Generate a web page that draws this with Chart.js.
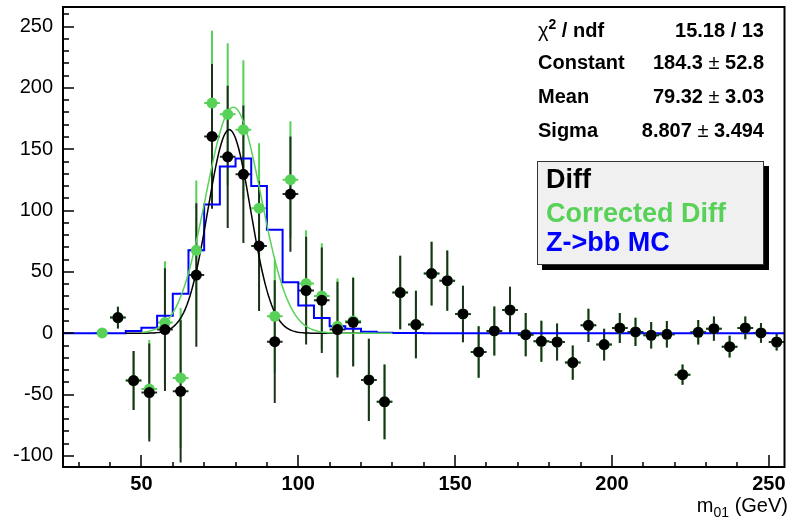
<!DOCTYPE html>
<html>
<head>
<meta charset="utf-8">
<script src="https://cdn.jsdelivr.net/npm/chart.js@4.4.0/dist/chart.umd.min.js"></script>
<style>
  body { margin: 0; background: #fff; }
  #wrap { position: relative; width: 790px; height: 519px; font-family: 'Liberation Sans', Arial, Helvetica, sans-serif; }
  #plot { position: absolute; left: 0; top: 0; }
  .stat { position: absolute; left: 538px; width: 226px; font-size: 20px; line-height: 20px; font-weight: bold; color: #000; white-space: nowrap; }
  .stat .v { position: absolute; right: 0; top: 0; }
  .pm { font-weight: normal; }
  .chi { font-weight: normal; }
  .stat sup { font-size: 14px; line-height: 0; vertical-align: 8px; }
  #legend { position: absolute; left: 537px; top: 161px; width: 225px; height: 102px; background: #f0f0f0; border: 1px solid #333; box-shadow: 5px 5px 0 #000; }
  .leg { position: absolute; left: 546px; font-size: 27px; line-height: 27px; font-weight: bold; white-space: nowrap; }
  #xtitle { position: absolute; right: 2px; top: 495px; font-size: 20px; line-height: 20px; white-space: nowrap; }
  #xtitle sub { font-size: 14px; line-height: 0; vertical-align: -5px; }
</style>
</head>
<body>
<div id="wrap">
  <canvas id="plot" width="790" height="519"></canvas>

  <div class="stat" style="top:20px"><span class="chi">&chi;</span><sup>2</sup> / ndf<span class="v">15.18 / 13</span></div>
  <div class="stat" style="top:52px">Constant<span class="v">184.3 <span class="pm">&plusmn;</span> 52.8</span></div>
  <div class="stat" style="top:86px">Mean<span class="v">79.32 <span class="pm">&plusmn;</span> 3.03</span></div>
  <div class="stat" style="top:120px">Sigma<span class="v">8.807 <span class="pm">&plusmn;</span> 3.494</span></div>

  <div id="legend"></div>
  <div class="leg" style="top:166px;color:#000">Diff</div>
  <div class="leg" style="top:200px;color:#57d157">Corrected Diff</div>
  <div class="leg" style="top:229px;color:#0000ff">Z-&gt;bb MC</div>

  <div id="xtitle">m<sub>01</sub> (GeV)</div>
</div>

<script>
const FONT = "'Liberation Sans', Arial, Helvetica, sans-serif";

// 5 GeV bins from 25 to 255
const binCentres = [27.5, 32.5, 37.5, 42.5, 47.5, 52.5, 57.5, 62.5, 67.5, 72.5,
  77.5, 82.5, 87.5, 92.5, 97.5, 102.5, 107.5, 112.5, 117.5, 122.5,
  127.5, 132.5, 137.5, 142.5, 147.5, 152.5, 157.5, 162.5, 167.5, 172.5,
  177.5, 182.5, 187.5, 192.5, 197.5, 202.5, 207.5, 212.5, 217.5, 222.5,
  227.5, 232.5, 237.5, 242.5, 247.5, 252.5];
const binHalfWidth = 2.5;

const diffValues = [null, null, null, 12.8, -38.5, -48.3, 3.0, -47.3, 47.5, 160.5,
  143.9, 129.6, 71.2, -6.8, 113.5, 34.8, 26.9, 3.0, 9.0, -38.0,
  -55.9, 33.2, 7.1, 48.7, 42.9, 15.8, -15.2, 1.9, 19.0, -1.1,
  -6.5, -7.1, -23.9, 6.5, -9.2, 4.3, 1.1, -1.6, -0.8, -33.7,
  0.8, 3.8, -10.9, 4.4, 0.3, -7.1];
const diffErrors = [null, null, null, 8.8, 24, 40, 50, 58, 58.5, 59,
  58, 56, 53, 50, 47, 44, 43, 39, 36, 33.5,
  30.5, 30, 27.5, 26, 24.5, 23, 21, 20, 19, 17.7,
  16.7, 15, 14, 13.5, 13, 12.2, 11.5, 10.8, 10.8, 8.2,
  10, 9.8, 8.8, 9.2, 8, 7];

const corrValues = [null, null, 0.3, 12.8, -38.5, -45.5, 8.7, -36.4, 67.6, 187.7,
  178.5, 166.0, 102.0, 13.9, 125.2, 40.5, 30.4, 5.7, 10.0, -38.0,
  -55.9, 33.2, 7.1, 48.7, 42.9, 15.8, -15.2, 1.9, 19.0, -1.1,
  -6.5, -7.1, -23.9, 6.5, -9.2, 4.3, 1.1, -1.6, -0.8, -33.7,
  0.8, 3.8, -10.9, 4.4, 0.3, -7.1];
const corrErrors = [null, null, 0, 8.8, 24, 40, 50, 57, 57, 59,
  58, 56.5, 53, 46, 47.6, 43.5, 43, 39, 36, 33.5,
  30.5, 30, 27.5, 26, 24.5, 23, 21, 20, 19, 17.7,
  16.7, 15, 14, 13.5, 13, 12.2, 11.5, 10.8, 10.8, 8.2,
  10, 9.8, 8.8, 9.2, 8, 7];

// Z->bb MC histogram contents, same binning
const mcValues = [0, 0, 0, 0, 1.9, 4.6, 14.4, 32.3, 67.6, 105,
  136, 142.5, 120, 84.5, 41.6, 22.6, 12.5, 5.7, 3.8, 1.2,
  0.5, 0.3, 0.3, 0, 0, 0, 0, 0, 0, 0,
  0, 0, 0, 0, 0, 0, 0, 0, 0, 0,
  0, 0, 0, 0, 0, 0];

// gaussian fits: [constant, mean, sigma, from, to]
const diffFit = [166.0, 78.0, 6.8, 45, 120];
const corrFit = [184.3, 79.32, 8.807, 50, 130];

const xTickValues = [50, 100, 150, 200, 250];
const yTickValues = [-100, -50, 0, 50, 100, 150, 200, 250];

const GREEN = '#57d157';

function points(values) {
  return binCentres.map((x, i) => ({ x, y: values[i] })).filter(p => p.y !== null);
}

function fitCurve([c, m, s, from, to]) {
  const pts = [];
  for (let x = from; x <= to + 1e-9; x += 0.5) {
    pts.push({ x, y: c * Math.exp(-0.5 * ((x - m) / s) ** 2) });
  }
  return pts;
}

const mcSteps = binCentres.map((c, i) => ({ x: c - binHalfWidth, y: mcValues[i] }));
mcSteps.push({ x: binCentres[binCentres.length - 1] + binHalfWidth, y: mcValues[mcValues.length - 1] });

// error bars for both point series, drawn under the markers
const errorBars = {
  id: 'errorBars',
  beforeDatasetsDraw(chart) {
    const { ctx, scales: { x, y } } = chart;
    const sets = [
      [corrValues, corrErrors, GREEN],
      [diffValues, diffErrors, '#1c321c']
    ];
    ctx.save();
    ctx.lineWidth = 2;
    sets.forEach(([vals, errs, colour]) => {
      ctx.strokeStyle = colour;
      binCentres.forEach((c, i) => {
        if (vals[i] === null) return;
        const px = x.getPixelForValue(c);
        const py = y.getPixelForValue(vals[i]);
        ctx.beginPath();
        ctx.moveTo(px, y.getPixelForValue(vals[i] + errs[i]));
        ctx.lineTo(px, y.getPixelForValue(vals[i] - errs[i]));
        ctx.moveTo(x.getPixelForValue(c - binHalfWidth), py);
        ctx.lineTo(x.getPixelForValue(c + binHalfWidth), py);
        ctx.stroke();
      });
    });
    ctx.restore();
  }
};

// inward ticks and the frame
const frameTicks = {
  id: 'frameTicks',
  afterDraw(chart) {
    const { ctx, chartArea: a, scales: { x, y } } = chart;
    ctx.save();
    ctx.strokeStyle = '#000';
    ctx.lineWidth = 1.5;
    ctx.beginPath();
    for (let v = 30; v <= 250; v += 10) {
      const px = Math.round(x.getPixelForValue(v));
      ctx.moveTo(px, a.bottom);
      ctx.lineTo(px, a.bottom - (v % 50 === 0 ? 12 : 5));
    }
    for (let v = -100; v <= 260; v += 10) {
      const py = Math.round(y.getPixelForValue(v));
      ctx.moveTo(a.left, py);
      ctx.lineTo(a.left + (v % 50 === 0 ? 11 : 6), py);
    }
    ctx.stroke();
    ctx.lineWidth = 2;
    ctx.strokeRect(a.left, a.top, a.right - a.left, a.bottom - a.top);
    ctx.restore();
  }
};

function noPadding(s) {
  s.paddingTop = 0;
  s.paddingBottom = 0;
  s.paddingLeft = 0;
  s.paddingRight = 0;
}

new Chart(document.getElementById('plot'), {
  type: 'scatter',
  data: {
    datasets: [
      {
        label: 'Diff',
        data: points(diffValues),
        backgroundColor: '#000',
        borderWidth: 0,
        pointRadius: 5.5,
        order: 0
      },
      {
        label: 'Corrected Diff',
        data: points(corrValues),
        backgroundColor: GREEN,
        borderWidth: 0,
        pointRadius: 5.5,
        order: 1
      },
      {
        type: 'line',
        label: 'fit corrected',
        data: fitCurve(corrFit),
        borderColor: GREEN,
        borderWidth: 1.5,
        pointRadius: 0,
        order: 2
      },
      {
        type: 'line',
        label: 'fit diff',
        data: fitCurve(diffFit),
        borderColor: '#000',
        borderWidth: 1.5,
        pointRadius: 0,
        order: 3
      },
      {
        type: 'line',
        label: 'Z->bb MC',
        data: mcSteps,
        stepped: true,
        borderColor: '#0000ff',
        borderWidth: 2,
        pointRadius: 0,
        order: 4
      }
    ]
  },
  options: {
    responsive: false,
    animation: false,
    devicePixelRatio: 1,
    layout: { padding: { left: 0, right: 3, top: 7, bottom: 0 } },
    plugins: { legend: { display: false }, tooltip: { enabled: false } },
    scales: {
      x: {
        type: 'linear',
        min: 25,
        max: 255,
        afterBuildTicks: s => { s.ticks = xTickValues.map(v => ({ value: v })); },
        afterFit: s => { s.height = 52; noPadding(s); },
        grid: { display: false, drawTicks: false },
        border: { display: false },
        ticks: { color: '#000', padding: 5, maxRotation: 0, font: { family: FONT, size: 20, weight: 'bold' } }
      },
      y: {
        type: 'linear',
        min: -109,
        max: 266,
        afterBuildTicks: s => { s.ticks = yTickValues.map(v => ({ value: v })); },
        afterFit: s => { s.width = 63; noPadding(s); },
        grid: { display: false, drawTicks: false },
        border: { display: false },
        ticks: { color: '#000', padding: 10, font: { family: FONT, size: 20 } }
      }
    }
  },
  plugins: [errorBars, frameTicks]
});
</script>
</body>
</html>
